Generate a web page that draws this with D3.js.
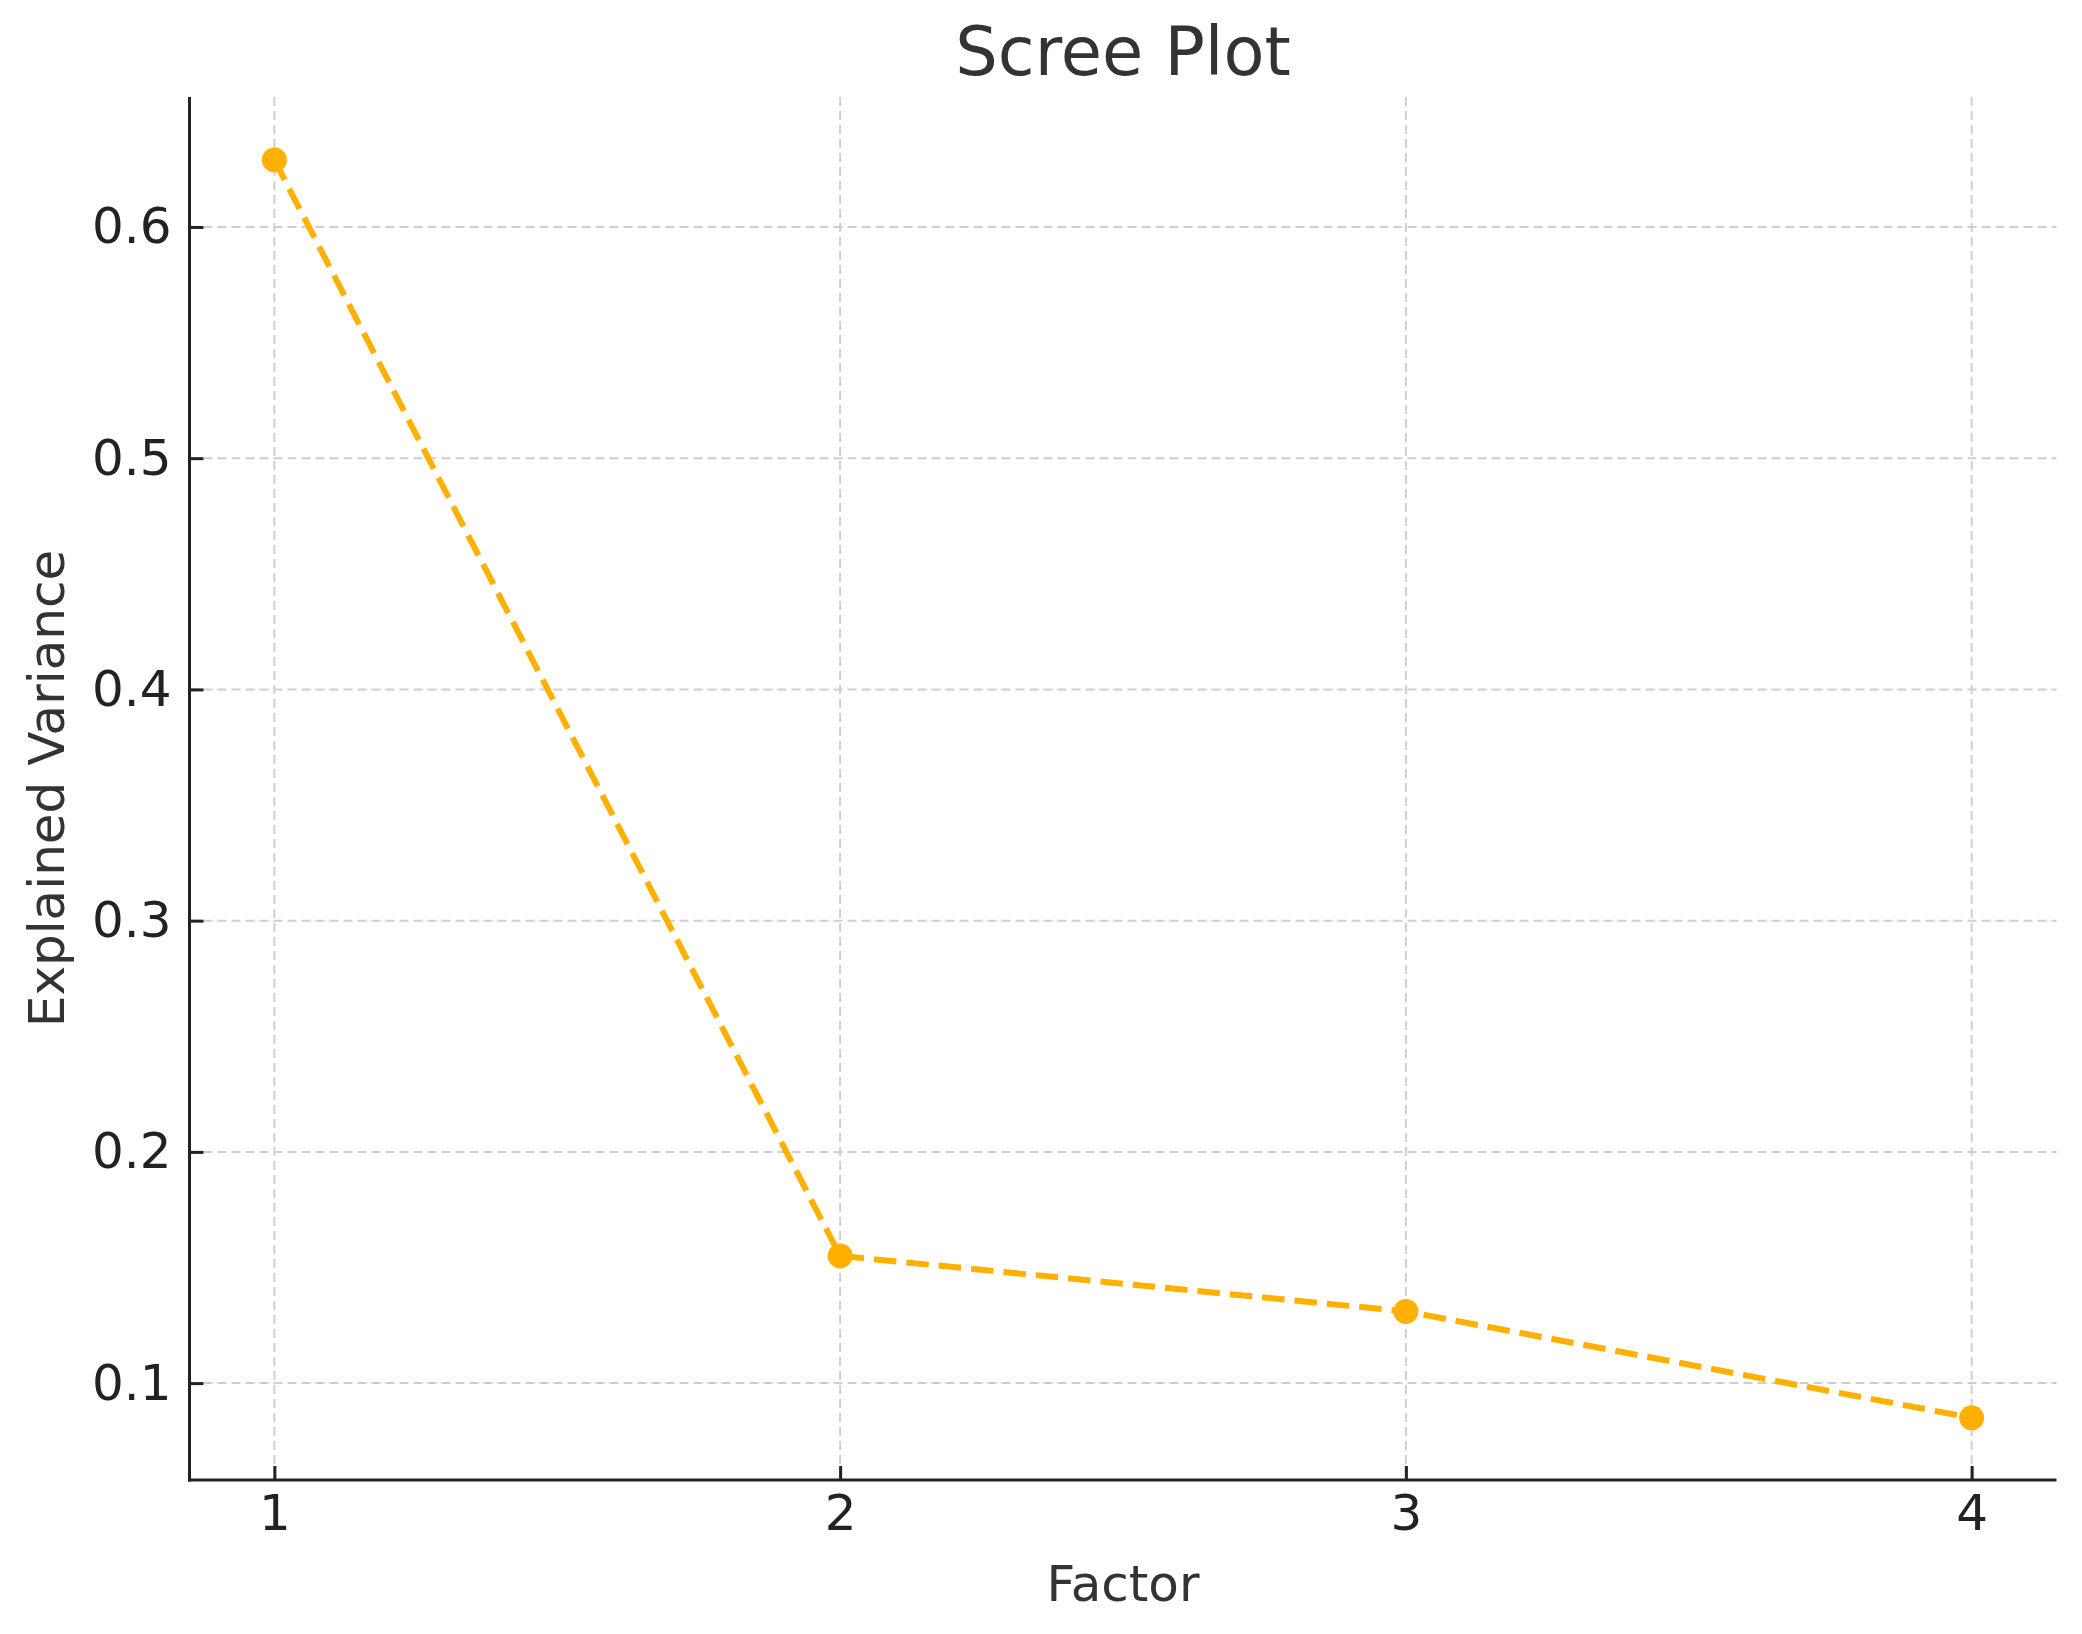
<!DOCTYPE html>
<html>
<head>
<meta charset="utf-8">
<script src="https://cdn.jsdelivr.net/npm/d3@7"></script>
<style>
  html, body { margin: 0; padding: 0; background: #fff; }
  svg { display: block; font-family: "DejaVu Sans", sans-serif; }
</style>
</head>
<body>
<svg id="chart" width="2082" height="1634"></svg>
<script>
const factors = [1, 2, 3, 4];
const explainedVariance = [0.629, 0.155, 0.131, 0.085];
const yTicks = [0.1, 0.2, 0.3, 0.4, 0.5, 0.6];
const titleText = "Scree Plot";
const xLabelText = "Factor";
const yLabelText = "Explained Variance";

const W = 2082, H = 1634;
const m = { left: 189.5, right: 2056.5, top: 97, bottom: 1480 };
const svg = d3.select("#chart");

const x = d3.scaleLinear().domain([0.85, 4.15]).range([m.left, m.right]);
const y = d3.scaleLinear().domain([0.0581, 0.6562]).range([m.bottom, m.top]);

// grid
const grid = svg.append("g");
grid.selectAll("line.gx").data(factors).join("line")
  .attr("x1", d => x(d)).attr("x2", d => x(d))
  .attr("y1", m.top).attr("y2", m.bottom)
  .attr("stroke", "#cfcfcf").attr("stroke-width", 2).attr("stroke-dasharray", "9,5");
grid.selectAll("line.gy").data(yTicks).join("line")
  .attr("x1", m.left).attr("x2", m.right)
  .attr("y1", d => y(d)).attr("y2", d => y(d))
  .attr("stroke", "#cfcfcf").attr("stroke-width", 2).attr("stroke-dasharray", "9,5");

// axes
const xAxis = d3.axisBottom(x).tickValues(factors).tickFormat(d3.format("d")).tickSize(14).tickPadding(10);
const yAxis = d3.axisLeft(y).tickValues(yTicks).tickFormat(d3.format(".1f")).tickSize(14).tickPadding(8);

const gx = svg.append("g").attr("transform", `translate(0,${m.bottom})`).call(xAxis);
gx.select(".domain").remove();
gx.selectAll(".tick line").attr("stroke", "#222").attr("stroke-width", 3).attr("y2", -14);
gx.selectAll(".tick text").attr("fill", "#222").attr("font-size", 50).attr("font-family", "DejaVu Sans").attr("y", 14);

const gy = svg.append("g").attr("transform", `translate(${m.left},0)`).call(yAxis);
gy.select(".domain").remove();
gy.selectAll(".tick line").attr("stroke", "#222").attr("stroke-width", 3).attr("x2", 14);
gy.selectAll(".tick text").attr("fill", "#222").attr("font-size", 50).attr("font-family", "DejaVu Sans").attr("x", -18);

// spines
svg.append("line").attr("x1", m.left).attr("x2", m.left).attr("y1", m.top).attr("y2", m.bottom + 1.5)
  .attr("stroke", "#222").attr("stroke-width", 3);
svg.append("line").attr("x1", m.left - 1.5).attr("x2", m.right).attr("y1", m.bottom).attr("y2", m.bottom)
  .attr("stroke", "#222").attr("stroke-width", 3);

// data
const pts = factors.map((f, i) => ({ f, v: explainedVariance[i] }));
const line = d3.line().x(d => x(d.f)).y(d => y(d.v));
svg.append("path").datum(pts).attr("d", line)
  .attr("fill", "none").attr("stroke", "#ffb000").attr("stroke-width", 6)
  .attr("stroke-dasharray", "22.5,10");
svg.selectAll("circle.pt").data(pts).join("circle")
  .attr("cx", d => x(d.f)).attr("cy", d => y(d.v)).attr("r", 12.5)
  .attr("fill", "#ffb000");

// labels
svg.append("text").attr("x", (m.left + m.right) / 2).attr("y", 75)
  .attr("text-anchor", "middle").attr("font-size", 67).attr("fill", "#333").text(titleText);
svg.append("text").attr("x", (m.left + m.right) / 2).attr("y", 1601)
  .attr("text-anchor", "middle").attr("font-size", 50).attr("fill", "#333").text(xLabelText);
svg.append("text").attr("transform", `translate(64,${(m.top + m.bottom) / 2}) rotate(-90)`)
  .attr("text-anchor", "middle").attr("font-size", 50).attr("fill", "#333").text(yLabelText);
</script>
</body>
</html>
